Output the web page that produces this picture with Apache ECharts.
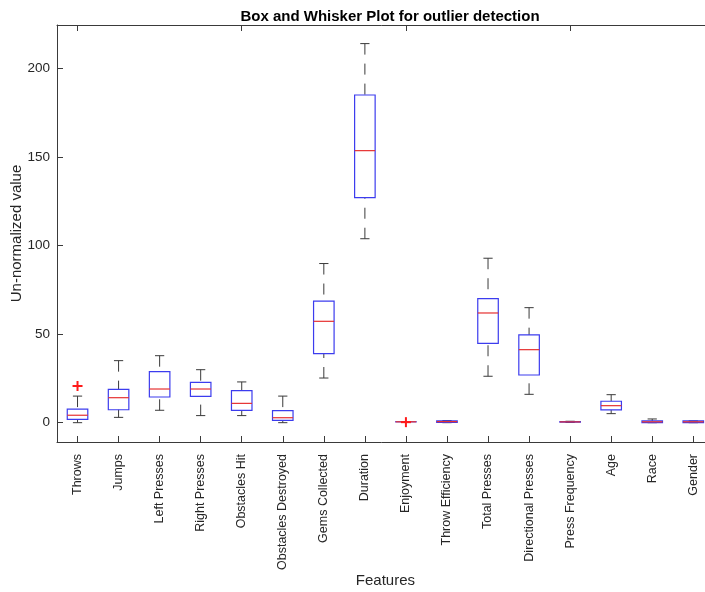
<!DOCTYPE html>
<html>
<head>
<meta charset="utf-8">
<script src="https://cdn.jsdelivr.net/npm/echarts@6/dist/echarts.min.js"></script>
<style>
  html, body { margin: 0; padding: 0; background: #fff; }
  #chart { width: 705px; height: 592px; }
</style>
</head>
<body>
<div id="chart"></div>
<script>
// Feature names along the x axis
const categories = [
  'Throws', 'Jumps', 'Left Presses', 'Right Presses', 'Obstacles Hit',
  'Obstacles Destroyed', 'Gems Collected', 'Duration', 'Enjoyment',
  'Throw Efficiency', 'Total Presses', 'Directional Presses',
  'Press Frequency', 'Age', 'Race', 'Gender'
];

// Five-number summaries per feature (whisker ends, quartiles, median)
const whiskerLow  = [0,   3,    7,    4,    4,    0,   25.2, 103.8, 0.5, 0.0, 26.2, 16.0, 0.1,  5.1, 0,   0];
const quartile1   = [1.9, 7.3,  14.5, 14.9, 7.0,  1.3, 39.0, 127.0, 0.5, 0.2, 44.8, 26.9, 0.3,  7.2, 0,   0];
const medians     = [4.2, 14.1, 19.0, 19.0, 10.9, 2.8, 57.2, 153.5, 0.5, 0.6, 61.9, 41.2, 0.45, 9.6, 0.5, 0.5];
const quartile3   = [7.7, 18.8, 28.8, 22.8, 18.1, 6.8, 68.6, 184.9, 0.5, 1.0, 70.0, 49.5, 0.6,  12.1, 1,   1];
const whiskerHigh = [15,  35,   37.8, 29.9, 23.0, 15,  89.8, 213.9, 0.5, 1.2, 92.8, 64.9, 0.8,  15.8, 2.1, 1];

// Points beyond the whiskers: [feature index, value]
const outlierFeature = [0, 8];
const outlierValue   = [20.7, 0.3];

// Y axis tick values
const yTicks = [0, 50, 100, 150, 200];

const boxRows = categories.map((c, i) =>
  [i, whiskerLow[i], quartile1[i], medians[i], quartile3[i], whiskerHigh[i]]);
const outlierRows = outlierFeature.map((f, k) => [f, outlierValue[k]]);

const FONT = '"Liberation Sans", Arial, Helvetica, sans-serif';
const AXIS_COLOR = '#3a3a3a';
const TEXT_COLOR = '#262626';
const BOX_COLOR = '#3c3cee';
const MEDIAN_COLOR = '#e63030';
const WHISKER_COLOR = '#3a3a3a';

function renderBox(params, api) {
  const i = api.value(0);
  const lo = api.value(1), q1 = api.value(2), med = api.value(3), q3 = api.value(4), hi = api.value(5);
  const band = api.size([1, 0])[0];
  const half = band * 0.25;
  const capHalf = half * 0.45;
  const x = api.coord([i, med])[0];
  const yLo = api.coord([i, lo])[1];
  const yQ1 = api.coord([i, q1])[1];
  const yMed = api.coord([i, med])[1];
  const yQ3 = api.coord([i, q3])[1];
  const yHi = api.coord([i, hi])[1];
  const dash = { stroke: WHISKER_COLOR, lineWidth: 1, lineDash: [11, 9] };
  const solid = { stroke: WHISKER_COLOR, lineWidth: 1 };
  return {
    type: 'group',
    children: [
      { type: 'line', shape: { x1: x, y1: yHi, x2: x, y2: yQ3 }, style: dash },
      { type: 'line', shape: { x1: x, y1: yLo, x2: x, y2: yQ1 }, style: dash },
      { type: 'line', shape: { x1: x - capHalf, y1: yHi, x2: x + capHalf, y2: yHi }, style: solid },
      { type: 'line', shape: { x1: x - capHalf, y1: yLo, x2: x + capHalf, y2: yLo }, style: solid },
      { type: 'rect', shape: { x: x - half, y: yQ3, width: half * 2, height: Math.max(yQ1 - yQ3, 0.01) },
        style: { fill: 'rgba(0,0,0,0)', stroke: BOX_COLOR, lineWidth: 1.2 } },
      { type: 'line', shape: { x1: x - half, y1: yMed, x2: x + half, y2: yMed },
        style: { stroke: MEDIAN_COLOR, lineWidth: 1.2 } }
    ]
  };
}

function renderOutlier(params, api) {
  const p = api.coord([api.value(0), api.value(1)]);
  const s = 5;
  const st = { stroke: '#ff1a1a', lineWidth: 2 };
  return {
    type: 'group',
    children: [
      { type: 'line', shape: { x1: p[0] - s, y1: p[1], x2: p[0] + s, y2: p[1] }, style: st },
      { type: 'line', shape: { x1: p[0], y1: p[1] - s, x2: p[0], y2: p[1] + s }, style: st }
    ]
  };
}

const chart = echarts.init(document.getElementById('chart'), null, { renderer: 'canvas' });

const catAxisBase = {
  type: 'category',
  data: categories,
  boundaryGap: true,
  axisLine: { show: true, onZero: false, lineStyle: { color: AXIS_COLOR, width: 1 } },
  axisTick: { show: true, inside: true, alignWithLabel: true, length: 6, lineStyle: { color: AXIS_COLOR } },
  splitLine: { show: false }
};

chart.setOption({
  animation: false,
  backgroundColor: '#ffffff',
  title: {
    text: 'Box and Whisker Plot for outlier detection',
    left: 385,
    top: 4,
    textAlign: 'center',
    textStyle: { fontFamily: FONT, fontSize: 15, fontWeight: 'bold', color: '#000' }
  },
  grid: { left: 57, top: 25, width: 656.8, height: 417, containLabel: false, outerBoundsMode: 'none' },
  xAxis: [
    Object.assign({}, catAxisBase, {
      position: 'bottom',
      name: 'Features',
      nameLocation: 'middle',
      nameGap: 131,
      nameMoveOverlap: false,
      nameTextStyle: { fontFamily: FONT, fontSize: 15, color: TEXT_COLOR },
      axisLabel: {
        show: true, rotate: 90, interval: 0, margin: 12,
        fontFamily: FONT, fontSize: 12.5, color: TEXT_COLOR
      }
    }),
    Object.assign({}, catAxisBase, {
      position: 'top',
      axisLabel: { show: false }
    })
  ],
  yAxis: {
    type: 'value',
    min: -10.9,
    max: 224.4,
    name: 'Un-normalized value',
    nameLocation: 'middle',
    nameGap: 33,
    nameMoveOverlap: false,
    nameTextStyle: { fontFamily: FONT, fontSize: 15, color: TEXT_COLOR },
    axisLine: { show: true, lineStyle: { color: AXIS_COLOR, width: 1 } },
    axisTick: { show: true, inside: true, length: 6, customValues: yTicks, lineStyle: { color: AXIS_COLOR } },
    axisLabel: { show: true, customValues: yTicks, margin: 7, fontFamily: FONT, fontSize: 13.5, color: TEXT_COLOR },
    splitLine: { show: false }
  },
  series: [
    {
      type: 'custom',
      name: 'boxes',
      renderItem: renderBox,
      encode: { x: 0, y: [1, 2, 3, 4, 5] },
      data: boxRows,
      z: 2
    },
    {
      type: 'custom',
      name: 'outliers',
      renderItem: renderOutlier,
      encode: { x: 0, y: 1 },
      data: outlierRows,
      z: 3
    }
  ]
});
</script>
</body>
</html>
